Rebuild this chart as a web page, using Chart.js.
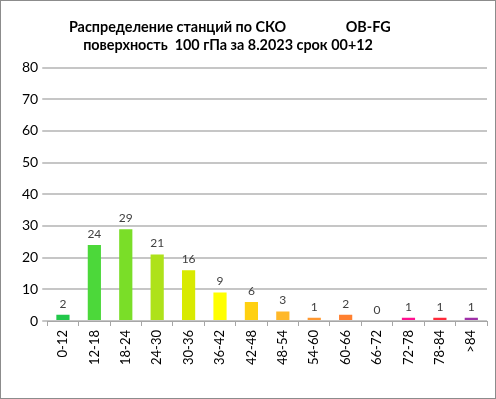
<!DOCTYPE html>
<html>
<head>
<meta charset="utf-8">
<script src="https://cdn.jsdelivr.net/npm/chart.js@4/dist/chart.umd.min.js"></script>
<style>
  html, body { margin: 0; padding: 0; background: #fff; }
  #box { width: 496px; height: 399px; box-sizing: border-box; border: 1px solid #8c8c8c; background: #fff; }
</style>
</head>
<body>
<div id="box"><canvas id="chart" width="494" height="397"></canvas></div>
<script>
// Категории СКО и число станций
const categories = ['0-12', '12-18', '18-24', '24-30', '30-36', '36-42', '42-48', '48-54', '54-60', '60-66', '66-72', '72-78', '78-84', '>84'];
const stationCounts = [2, 24, 29, 21, 16, 9, 6, 3, 1, 2, 0, 1, 1, 1];
const barColors = ['#22c84a', '#4cd83a', '#7ade28', '#aee21a', '#d8ea00', '#ffff00', '#ffd010', '#ffb828', '#ff9830', '#ff8030', '#ff6a3a', '#ff1090', '#ff2a3a', '#a030a8'];
const yTicks = [0, 10, 20, 30, 40, 50, 60, 70, 80];
// хвостовые пробелы сдвигают заголовок влево, как в оригинале
const titleLines = [
    'Распределение станций по СКО                 OB-FG             ',
    'поверхность  100 гПа за 8.2023 срок 00+12              '
];

// подписи значений над столбцами
const valueLabels = {
    id: 'valueLabels',
    afterDatasetsDraw(chart) {
        const ctx = chart.ctx;
        const meta = chart.getDatasetMeta(0);
        ctx.save();
        ctx.font = '12px Lato, "Open Sans", sans-serif';
        ctx.fillStyle = '#404040';
        ctx.textAlign = 'center';
        ctx.textBaseline = 'bottom';
        meta.data.forEach((bar, i) => {
            ctx.fillText(String(stationCounts[i]), bar.x, bar.y - 5);
        });
        ctx.restore();
    }
};

new Chart(document.getElementById('chart'), {
    type: 'bar',
    data: {
        labels: categories,
        datasets: [{
            data: stationCounts,
            backgroundColor: barColors,
            borderWidth: 0,
            categoryPercentage: 1,
            barPercentage: 0.42
        }]
    },
    options: {
        responsive: false,
        animation: false,
        layout: { padding: { left: 17, right: 8, top: 8, bottom: 29 } },
        plugins: {
            legend: { display: false },
            tooltip: { enabled: false },
            title: {
                display: true,
                text: titleLines,
                color: '#000',
                font: { family: 'Lato, "Open Sans", sans-serif', size: 14.4, weight: 'bold' },
                padding: { top: 10, bottom: 14 },
                lineHeight: 1.39
            }
        },
        scales: {
            x: {
                grid: { display: true, drawOnChartArea: false, offset: true, tickLength: 5, color: '#a6a6a6' },
                border: { color: '#a6a6a6', width: 1 },
                ticks: {
                    color: '#000',
                    font: { family: 'Lato, "Open Sans", sans-serif', size: 13 },
                    maxRotation: 90, minRotation: 90, padding: 4
                }
            },
            y: {
                min: 0, max: 80,
                afterBuildTicks(axis) { axis.ticks = yTicks.map(v => ({ value: v })); },
                grid: { color: '#c6c6c6', lineWidth: 2, tickLength: 5 },
                border: { display: false },
                ticks: {
                    color: '#000',
                    font: { family: 'Lato, "Open Sans", sans-serif', size: 14 },
                    padding: 4
                }
            }
        }
    },
    plugins: [valueLabels]
});
</script>
</body>
</html>
